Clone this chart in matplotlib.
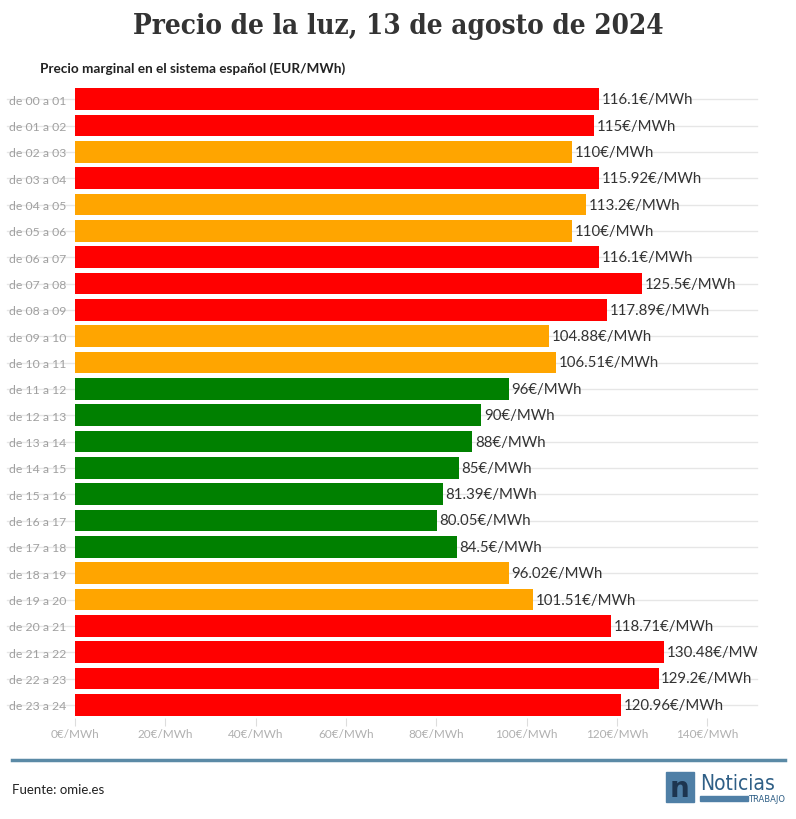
import matplotlib.pyplot as plt
from matplotlib.patches import Rectangle

horas = ["de %02d a %02d" % (h, h + 1) for h in range(24)]
precios = [116.1, 115, 110, 115.92, 113.2, 110, 116.1, 125.5, 117.89, 104.88,
           106.51, 96, 90, 88, 85, 81.39, 80.05, 84.5, 96.02, 101.51,
           118.71, 130.48, 129.2, 120.96]
nivel = ["alto", "alto", "medio", "alto", "medio", "medio", "alto", "alto", "alto", "medio",
         "medio", "bajo", "bajo", "bajo", "bajo", "bajo", "bajo", "bajo", "medio", "medio",
         "alto", "alto", "alto", "alto"]
colores = {"alto": "#ff0000", "medio": "#ffa500", "bajo": "#008000"}
ticks = [0, 20, 40, 60, 80, 100, 120, 140]

W, H = 796, 820
fig = plt.figure(figsize=(W / 100, H / 100), dpi=100)
fig.patch.set_facecolor("white")

ax = fig.add_axes([75 / W, 1 - 719 / H, (757 - 75) / W, (719 - 87) / H])
ax.set_xlim(0, 151)
ax.set_ylim(len(horas) - 0.5, -0.5)

y = list(range(len(horas)))
for i in y:
    ax.axhline(i, xmin=-0.1, color="#e6e6e6", lw=1, zorder=0, clip_on=False)
ax.barh(y, precios, height=0.82, color=[colores[n] for n in nivel], zorder=2)
for i, v in zip(y, precios):
    ax.text(v + 0.6, i, "%g€/MWh" % v, va="center", ha="left", fontsize=10.8,
            family="Lato", color="#333333", zorder=3, clip_on=True)

ax.set_yticks(y)
ax.set_yticklabels(horas, fontsize=8.8, family="Lato", color="#a0a0a0")
ax.tick_params(axis="y", length=0, pad=6)
ax.set_xticks(ticks)
ax.set_xticklabels(["%d€/MWh" % t for t in ticks], fontsize=8.5, family="Lato", color="#b0b0b0")
ax.tick_params(axis="x", length=6, color="#dddddd", pad=1)
for s in ax.spines.values():
    s.set_visible(False)

fig.text(0.5, 1 - 26 / H, "Precio de la luz, 13 de agosto de 2024", ha="center", va="center",
         fontsize=20, family="DejaVu Serif", weight="bold", stretch="condensed", color="#333333")
fig.text(40 / W, 1 - 69 / H, "Precio marginal en el sistema español (EUR/MWh)", ha="left",
         va="center", fontsize=9.8, family="Lato", weight="bold", color="#222222")

fig.add_artist(plt.Line2D([12 / W, 785 / W], [1 - 761 / H] * 2, color="#5b8aa6", lw=2.5))
fig.text(12 / W, 1 - 790 / H, "Fuente: omie.es", ha="left", va="center", fontsize=9.5,
         family="Lato", color="#222222")

# logo
fig.add_artist(Rectangle((666 / W, 1 - 803 / H), 28 / W, 30 / H, color="#4f7fa6"))
fig.text(680 / W, 1 - 789 / H, "n", ha="center", va="center", fontsize=20,
         family="DejaVu Sans", weight="bold", color="#1d3550")
fig.text(700 / W, 1 - 784 / H, "Noticias", ha="left", va="center", fontsize=15,
         family="DejaVu Sans", stretch="condensed", color="#2f5f86")
fig.add_artist(Rectangle((700 / W, 1 - 802 / H), 48 / W, 5 / H, color="#4f7fa6"))
fig.text(785 / W, 1 - 800 / H, "TRABAJO", ha="right", va="center", fontsize=6,
         family="DejaVu Sans", color="#2f5f86")

fig.savefig("out.png", dpi=100)
